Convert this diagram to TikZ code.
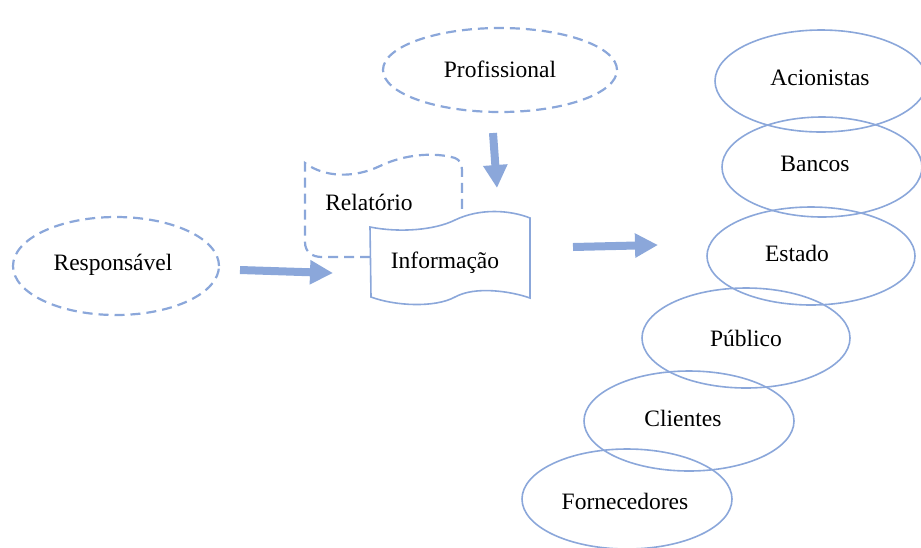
\documentclass[tikz,border=0pt]{standalone}
\usepackage{fontspec}
\setmainfont{Liberation Serif}
\usetikzlibrary{arrows.meta,shapes.geometric}
\definecolor{lineblue}{HTML}{8BA7DA}
\tikzset{
  lbl/.style={font=\fontsize{23.5}{28}\selectfont, text=black, inner sep=0pt},
  dashell/.style={ellipse, draw=lineblue, line width=2.2pt, dash pattern=on 10pt off 6pt, inner sep=0pt},
  solidell/.style={ellipse, draw=lineblue, line width=1.6pt, inner sep=0pt},
  bigarrow/.style={draw=lineblue, line width=8pt, -{Triangle[length=23pt,width=23pt]}},
  docdash/.style={draw=lineblue, line width=2.2pt, dash pattern=on 10pt off 6pt},
  docsolid/.style={draw=lineblue, line width=1.6pt, fill=white}
}
\begin{document}
\begin{tikzpicture}[x=1pt,y=-1pt]
\useasboundingbox (0,0) rectangle (921,547);

% sources
\node[dashell, minimum width=234pt, minimum height=84pt] (prof) at (500,70) {};
\node[lbl] (proft) at (500,69) {Profissional};
\node[dashell, minimum width=206pt, minimum height=98pt] (resp) at (116,266) {};
\node[lbl] (respt) at (113,265) {Responsável};

% report sheet (dashed), partly hidden behind the information sheet
\draw[docdash] (370,257) -- (322,257) .. controls (312,257) and (305,252) .. (305,242)
  -- (305,163) .. controls (325,178) and (355,178) .. (380,166)
  .. controls (405,154) and (435,152) .. (455,158)
  .. controls (460,160) and (462,164) .. (462,172) -- (462,214);
\node[lbl] (relt) at (369,202) {Relatório};

% information sheet
\draw[docsolid] (370,227) .. controls (400,233) and (435,230) .. (455,220)
  .. controls (480,208) and (510,210) .. (530,218) -- (530,298)
  .. controls (510,291) and (475,286) .. (455,297)
  .. controls (435,308) and (395,306) .. (371,297) -- cycle;
\node[lbl] (info) at (445,263) {Informação};

% users of the information
\node[solidell, minimum width=212pt, minimum height=102pt] (acio) at (821,81) {};
\node[lbl] (aciot) at (820,78) {Acionistas};
\node[solidell, minimum width=200pt, minimum height=100pt] (banc) at (822,167) {};
\node[lbl] (banct) at (815,164) {Bancos};
\node[solidell, minimum width=208pt, minimum height=98pt] (esta) at (811,256) {};
\node[lbl] (estat) at (797,253) {Estado};
\node[solidell, minimum width=208pt, minimum height=100pt] (publ) at (746,338) {};
\node[lbl] (publt) at (746,338) {Público};
\node[solidell, minimum width=210pt, minimum height=100pt] (clie) at (689,421) {};
\node[lbl] (cliet) at (683,418) {Clientes};
\node[solidell, minimum width=210pt, minimum height=100pt] (forn) at (627,499) {};
\node[lbl] (fornt) at (625,501) {Fornecedores};

% flow arrows
\coordinate (a1s) at (240,270);
\coordinate (a1e) at (333,273);
\coordinate (a2s) at (493,133);
\coordinate (a2e) at (497,188);
\coordinate (a3s) at (573,247);
\coordinate (a3e) at (658,245);
\draw[bigarrow] (a1s) -- (a1e);
\draw[bigarrow] (a2s) -- (a2e);
\draw[bigarrow] (a3s) -- (a3e);
\end{tikzpicture}
\end{document}
